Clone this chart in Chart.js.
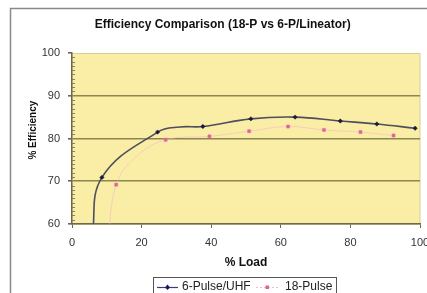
<!DOCTYPE html>
<html><head><meta charset="utf-8">
<script src="https://cdn.jsdelivr.net/npm/chart.js@4"></script>
<style>html,body{margin:0;padding:0;background:#fff;overflow:hidden}</style>
</head><body>
<canvas id="c" width="427" height="293"></canvas>
<script>
const chartTitle = 'Efficiency Comparison (18-P vs 6-P/Lineator)';
const xAxisTitle = '% Load';
const yAxisTitle = '% Efficiency';
const seriesNames = ['6-Pulse/UHF', '18-Pulse'];
const xTicks = [0, 20, 40, 60, 80, 100];
const yTicks = [60, 70, 80, 90, 100];

// 6-Pulse/UHF (points with marked=false only shape the smoothed curve)
const load6   = [5.8, 8.6, 24.6, 31.0, 37.6, 51.4, 64.1, 77.1, 87.6, 98.6];
const eff6    = [57.0, 70.9, 81.5, 82.7, 82.8, 84.6, 85.0, 84.1, 83.4, 82.4];
const marked6 = [false, true, true, false, true, true, true, true, true, true];

// 18-Pulse
const load18   = [10.3, 12.7, 18.4, 26.9, 39.5, 50.9, 62.1, 72.4, 82.9, 92.4];
const eff18    = [55.0, 69.2, 75.7, 79.7, 80.5, 81.7, 82.8, 82.0, 81.5, 80.7];
const marked18 = [false, true, false, true, true, true, true, true, true, true];

const FONT = '"Liberation Sans", Arial, sans-serif';
const toXY = (xs, ys) => xs.map((x, i) => ({x, y: ys[i]}));

const bgPlugin = {
  id: 'bg',
  beforeDraw(chart) {
    const {ctx, chartArea: a} = chart;
    ctx.save();
    ctx.fillStyle = '#ffffff';
    ctx.fillRect(0, 0, chart.width, chart.height);
    ctx.strokeStyle = '#8a8a8a';
    ctx.lineWidth = 1.5;
    ctx.strokeRect(10.5, 8.5, 440, 320);
    ctx.fillStyle = '#FAEDA6';
    ctx.fillRect(a.left, a.top, a.right - a.left, a.bottom - a.top);
    ctx.strokeStyle = '#d8cf98';
    ctx.lineWidth = 1;
    ctx.strokeRect(a.left, a.top + 0.5, a.right - a.left, a.bottom - a.top);
    ctx.restore();
  },
  beforeDatasetsDraw(chart) {
    const {ctx, chartArea: a} = chart;
    const ys = chart.scales.y;
    ctx.save();
    ctx.strokeStyle = '#8a8060';
    ctx.lineWidth = 1;
    for (let v = ys.min; v <= ys.max; v++) {
      if (v % 10 === 0) continue;
      const p = Math.round(ys.getPixelForValue(v)) + 0.5;
      ctx.beginPath(); ctx.moveTo(a.left, p); ctx.lineTo(a.left + 3, p); ctx.stroke();
    }
    ctx.restore();
  }
};

const legendPlugin = {
  id: 'customLegend',
  afterDraw(chart) {
    const {ctx} = chart;
    ctx.save();
    ctx.strokeStyle = '#555';
    ctx.lineWidth = 1;
    ctx.strokeRect(153.5, 277.5, 183, 22);
    ctx.font = '12px ' + FONT;
    ctx.fillStyle = '#222';
    ctx.textBaseline = 'middle';
    const yc = 287;
    const d0 = chart.data.datasets[0], d1 = chart.data.datasets[1];
    ctx.strokeStyle = '#3c3c78'; ctx.lineWidth = 1.2;
    ctx.beginPath(); ctx.moveTo(157, yc + 0.5); ctx.lineTo(178, yc + 0.5); ctx.stroke();
    ctx.fillStyle = '#1a1a5a';
    ctx.beginPath(); ctx.moveTo(167.5, yc - 2.5); ctx.lineTo(170, yc + 0.5); ctx.lineTo(167.5, yc + 3); ctx.lineTo(165, yc + 0.5); ctx.closePath(); ctx.fill();
    ctx.fillStyle = '#222';
    ctx.fillText(d0.label, 182, yc);
    ctx.strokeStyle = 'rgba(240,170,195,0.8)'; ctx.lineWidth = 1;
    ctx.setLineDash([2, 2]);
    ctx.beginPath(); ctx.moveTo(256, yc + 0.5); ctx.lineTo(278, yc + 0.5); ctx.stroke();
    ctx.setLineDash([]);
    ctx.fillStyle = '#e0609a';
    ctx.fillRect(265.5, yc - 1.5, 3.5, 3.5);
    ctx.fillStyle = '#222';
    ctx.fillText(d1.label, 285, yc);
    ctx.restore();
  }
};

new Chart(document.getElementById('c'), {
  type: 'line',
  data: {
    datasets: [
      {
        label: seriesNames[0],
        data: toXY(load6, eff6),
        borderColor: '#4e4e5c',
        borderWidth: 1.6,
        tension: 0.4,
        pointStyle: 'rectRot',
        pointRadius: ctx => marked6[ctx.dataIndex] ? 2.2 : 0,
        pointBackgroundColor: '#1a1a3a',
        pointBorderColor: '#1a1a3a',
        pointBorderWidth: 0.5
      },
      {
        label: seriesNames[1],
        data: toXY(load18, eff18),
        borderColor: 'rgba(242,180,200,0.55)',
        borderWidth: 1,
        tension: 0.4,
        pointStyle: 'rect',
        pointRadius: ctx => marked18[ctx.dataIndex] ? 2.2 : 0,
        pointBackgroundColor: '#e0609a',
        pointBorderColor: '#e870a8',
        pointBorderWidth: 0.5
      }
    ]
  },
  options: {
    responsive: false,
    animation: false,
    devicePixelRatio: 1,
    layout: {padding: {left: 12, right: 7, top: 13, bottom: 0}},
    plugins: {
      legend: {display: false},
      tooltip: {enabled: false},
      title: {
        display: true,
        text: '    ' + chartTitle,
        color: '#111',
        font: {family: FONT, size: 12, weight: 'bold'},
        padding: {top: 4, bottom: 21.6}
      }
    },
    scales: {
      x: {
        type: 'linear',
        min: xTicks[0], max: xTicks[xTicks.length - 1],
        afterBuildTicks: s => { s.ticks = xTicks.map(v => ({value: v})); },
        afterFit: s => { s.height = 69; s.paddingLeft = 0; s.paddingRight = 0; },
        ticks: {color: '#333', padding: 8, font: {family: FONT, size: 11}, maxRotation: 0, autoSkip: false},
        grid: {drawOnChartArea: false, tickLength: 4, tickColor: '#666'},
        border: {color: '#6e6a48', width: 1.5},
        title: {display: true, text: xAxisTitle, color: '#111', font: {family: FONT, size: 12, weight: 'bold'}, padding: {top: 0, bottom: 23}}
      },
      y: {
        type: 'linear',
        min: yTicks[0], max: yTicks[yTicks.length - 1],
        afterBuildTicks: s => { s.ticks = yTicks.map(v => ({value: v})); },
        afterFit: s => { s.width = 60; s.paddingTop = 0; s.paddingBottom = 0; },
        ticks: {color: '#333', padding: 8, font: {family: FONT, size: 11}, autoSkip: false},
        grid: {
          color: c => (c.tick && c.tick.value > 60 && c.tick.value < 100) ? '#8C8650' : 'rgba(0,0,0,0)',
          lineWidth: 1.6,
          tickLength: 4,
          tickColor: '#666'
        },
        border: {color: '#6e6a48', width: 1.5},
        title: {display: true, text: '      ' + yAxisTitle, color: '#111', font: {family: FONT, size: 10, weight: 'bold'}, padding: {top: 15, bottom: 0}}
      }
    }
  },
  plugins: [bgPlugin, legendPlugin]
});
</script>
</body></html>
